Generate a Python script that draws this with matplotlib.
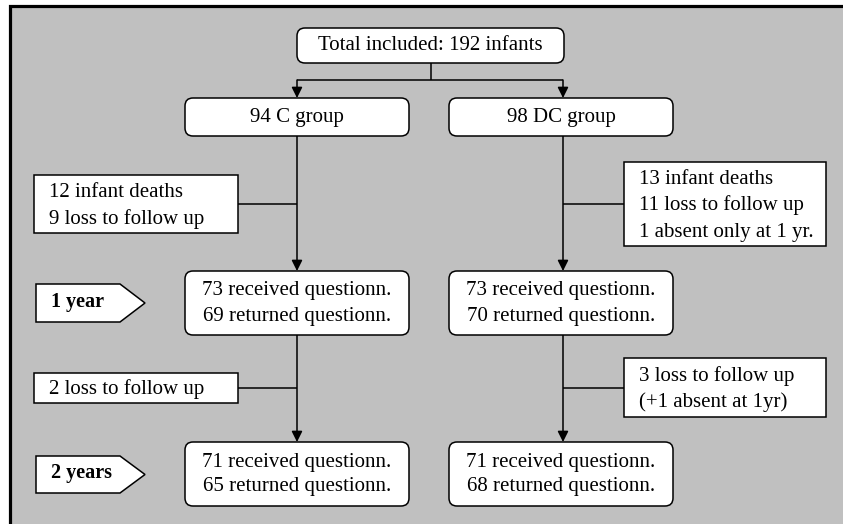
"""
Flujo de participantes: grupos C y DC, seguimiento a 1 y 2 años
"""

import matplotlib.pyplot as plt
from matplotlib.patches import FancyBboxPatch, Rectangle, Polygon

# ─── DATOS ────────────────────────────────────────────────────────────────────
TOTAL_INCLUIDOS = 192
GRUPOS          = ["C", "DC"]
N_GRUPO         = [94, 98]
RECIBIDOS_1A    = [73, 73]
DEVUELTOS_1A    = [69, 70]
RECIBIDOS_2A    = [71, 71]
DEVUELTOS_2A    = [65, 68]
PERDIDAS_1A     = [["12 infant deaths", "9 loss to follow up"],
                   ["13 infant deaths", "11 loss to follow up", "1 absent only at 1 yr."]]
PERDIDAS_2A     = [["2 loss to follow up"],
                   ["3 loss to follow up", "(+1 absent at 1yr)"]]
ETIQUETAS_TIEMPO = ["1 year", "2 years"]

# ─── ESTILO / DISPOSICIÓN (px) ────────────────────────────────────────────────
FUENTE = "Liberation Serif"
FS     = 15
GRIS   = "#c0c0c0"
LW     = 1.1

COL_X      = [297, 563]
CAJA_X     = [(185, 409), (449, 673)]
Y_TOTAL    = (28, 63)
Y_GRUPO    = (98, 136)
Y_1A       = (271, 335)
Y_2A       = (442, 506)
Y_RAMA     = 80
LADO_X     = [(34, 238), (624, 826)]
LADO_Y_1A  = [(175, 233), (162, 246)]
LADO_Y_2A  = [(373, 403), (358, 417)]
PENT_Y     = [(284, 322), (456, 493)]

fig = plt.figure(figsize=(8.43, 5.24), dpi=100)
ax = fig.add_axes([0, 0, 1, 1])
ax.set_xlim(0, 843)
ax.set_ylim(524, 0)
ax.axis('off')

# marco gris
ax.add_patch(Rectangle((9.5, 6), 900, 600, fc=GRIS, ec='black', lw=2.3, zorder=0))


def caja_redondeada(x0, x1, y0, y1, lineas, paso=25):
    ax.add_patch(FancyBboxPatch((x0, y0), x1 - x0, y1 - y0,
                                boxstyle="round,pad=0,rounding_size=8",
                                fc='white', ec='black', lw=LW, zorder=2))
    yc = (y0 + y1) / 2
    n = len(lineas)
    for i, t in enumerate(lineas):
        y = yc + (i - (n - 1) / 2) * paso
        ax.text((x0 + x1) / 2, y - 2, t, ha='center', va='center_baseline',
                fontsize=FS, family=FUENTE, zorder=3)


def caja_lateral(x0, x1, y0, y1, lineas, paso=26.5):
    ax.add_patch(Rectangle((x0, y0), x1 - x0, y1 - y0,
                           fc='white', ec='black', lw=LW, zorder=2))
    yc = (y0 + y1) / 2
    n = len(lineas)
    for i, t in enumerate(lineas):
        y = yc + (i - (n - 1) / 2) * paso
        ax.text(x0 + 15, y - 1, t, ha='left', va='center_baseline',
                fontsize=FS, family=FUENTE, zorder=3)


def flecha(x, y0, y1):
    ax.annotate('', xy=(x, y1), xytext=(x, y0),
                arrowprops=dict(arrowstyle='-|>', color='black', lw=LW,
                                mutation_scale=16, shrinkA=0, shrinkB=0),
                zorder=1)


def linea(xs, ys):
    ax.plot(xs, ys, color='black', lw=LW, zorder=1, solid_capstyle='butt')


def pentagono(y0, y1, texto):
    x0, x1, punta = 36, 120, 145
    ax.add_patch(Polygon([(x0, y0), (x1, y0), (punta, (y0 + y1) / 2),
                          (x1, y1), (x0, y1)],
                         closed=True, fc='white', ec='black', lw=LW, zorder=2))
    ax.text(x0 + 15, (y0 + y1) / 2 - 4, texto, ha='left', va='center_baseline',
            fontsize=14.5, fontweight='bold', family=FUENTE, zorder=3)


# caja superior
caja_redondeada(297, 564, *Y_TOTAL, [f"Total included: {TOTAL_INCLUIDOS} infants"])
xm = (297 + 564) / 2
linea([xm, xm], [Y_TOTAL[1], Y_RAMA])
linea([COL_X[0], COL_X[1]], [Y_RAMA, Y_RAMA])

for i in range(2):
    cx = COL_X[i]
    bx0, bx1 = CAJA_X[i]
    flecha(cx, Y_RAMA, Y_GRUPO[0])
    caja_redondeada(bx0, bx1, *Y_GRUPO, [f"{N_GRUPO[i]} {GRUPOS[i]} group"])

    flecha(cx, Y_GRUPO[1], Y_1A[0])
    caja_redondeada(bx0, bx1, *Y_1A, [f"{RECIBIDOS_1A[i]} received questionn.",
                                      f"{DEVUELTOS_1A[i]} returned questionn."])
    flecha(cx, Y_1A[1], Y_2A[0])
    caja_redondeada(bx0, bx1, *Y_2A, [f"{RECIBIDOS_2A[i]} received questionn.",
                                      f"{DEVUELTOS_2A[i]} returned questionn."])

    lx0, lx1 = LADO_X[i]
    borde = lx1 if i == 0 else lx0
    for ly, textos in ((LADO_Y_1A[i], PERDIDAS_1A[i]), (LADO_Y_2A[i], PERDIDAS_2A[i])):
        caja_lateral(lx0, lx1, *ly, textos)
        ym = (ly[0] + ly[1]) / 2
        linea([borde, cx], [ym, ym])

for (py0, py1), t in zip(PENT_Y, ETIQUETAS_TIEMPO):
    pentagono(py0, py1, t)

plt.savefig('out.png', dpi=100)
plt.close()
